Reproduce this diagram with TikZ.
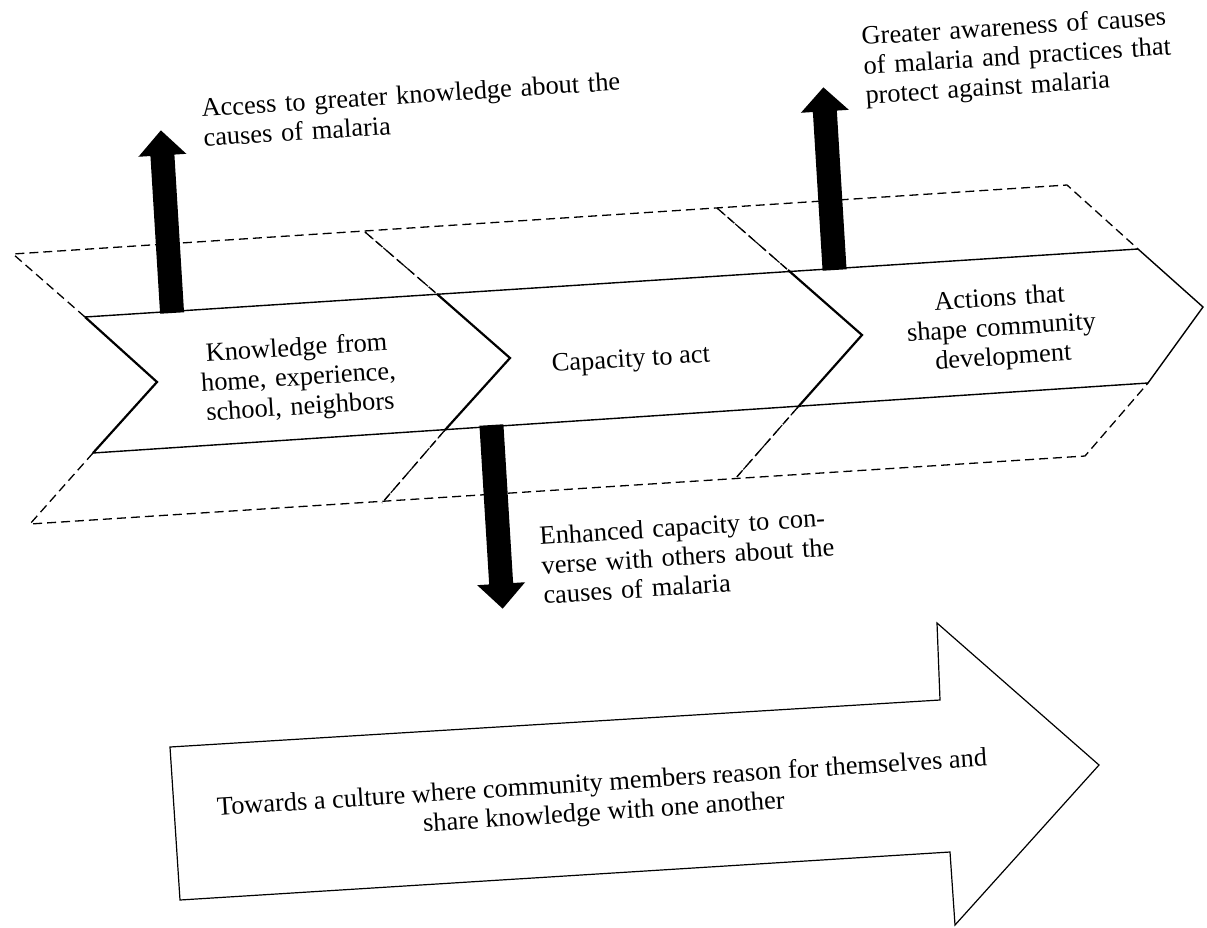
\documentclass[tikz,border=0pt]{standalone}
\usepackage{fontspec}
\setmainfont{Liberation Serif}
\begin{document}
\begin{tikzpicture}[x=1pt,y=-1pt,
  bandline/.style={line width=1.4pt, line join=miter},
  notchline/.style={line width=2.2pt, line join=miter},
  dashline/.style={line width=1.3pt, dash pattern=on 9pt off 5pt},
  dashshadow/.style={line width=1.1pt, dash pattern=on 5pt off 4pt, dash phase=3pt},
  txt/.style={font=\fontsize{26.4}{29.5}\selectfont, inner sep=0pt, rotate=3.7},
  blackarrow/.style={fill=black, draw=none}]
\useasboundingbox (0,0) rectangle (1207,927);
% outer dashed frame
\coordinate (D1) at (13,254);
\coordinate (D2) at (365,232);
\coordinate (D3) at (717,208);
\coordinate (D4) at (1067,185);
\coordinate (D5) at (1085,456);
\coordinate (D6) at (735,479);
\coordinate (D7) at (382,503);
\coordinate (D8) at (30,524);
% solid band
\coordinate (S1) at (85,317);
\coordinate (S2) at (157,382);
\coordinate (S3) at (93,453);
\coordinate (S4) at (1138,249);
\coordinate (S5) at (1203,307);
\coordinate (S6) at (1148,383);
\coordinate (C1t) at (437,294);
\coordinate (C1p) at (510,358);
\coordinate (C1b) at (445,430);
\coordinate (C2t) at (788,270);
\coordinate (C2p) at (862,335);
\coordinate (C2b) at (798,407);

\draw[dashline] (S1) -- (D1) -- (D4) -- (S4);
\draw[dashline] (S3) -- (D8) -- (D5) -- (S6);
\draw[dashline] (D2) -- (C1t);
\draw[dashline] (C1b) -- (D7);
\draw[dashline] (D3) -- (C2t);
\draw[dashline] (C2b) -- (D6);
\begin{scope}[shift={(1.8,0)}]
  \draw[dashshadow] (D2) -- (C1t);
  \draw[dashshadow] (C1b) -- (D7);
  \draw[dashshadow] (D3) -- (C2t);
  \draw[dashshadow] (C2b) -- (D6);
\end{scope}
\draw[bandline] (S1) -- (S4) -- (S5) -- (S6) -- (S3);
\draw[notchline] (S3) -- (S2) -- (S1);
\draw[notchline] (C1t) -- (C1p) -- (C1b);
\draw[notchline] (C2t) -- (C2p) -- (C2b);

% black arrows
\begin{scope}[shift={(172,312)}, rotate=3.5]
  \fill[blackarrow] (-12,1) -- (-12,-157) -- (-24,-157) -- (0,-182) -- (24,-157) -- (12,-157) -- (12,1) -- cycle;
\end{scope}
\begin{scope}[shift={(834.5,269)}, rotate=3.5]
  \fill[blackarrow] (-12,1) -- (-12,-158) -- (-24,-158) -- (0,-182) -- (24,-158) -- (12,-158) -- (12,1) -- cycle;
\end{scope}
\begin{scope}[shift={(491.5,426)}, rotate=3.5]
  \fill[blackarrow] (-12,-1) -- (-12,158) -- (-24,158) -- (0,183) -- (24,158) -- (12,158) -- (12,-1) -- cycle;
\end{scope}

% big arrow
\coordinate (A1) at (170,747);
\coordinate (A2) at (940,700);
\coordinate (A3) at (937,623);
\coordinate (A4) at (1099,765);
\coordinate (A5) at (955,925);
\coordinate (A6) at (950,852);
\coordinate (A7) at (180,900);
\draw[line width=1.2pt, line join=miter] (A1) -- (A2) -- (A3) -- (A4) -- (A5) -- (A6) -- (A7) -- cycle;

% texts
\node[txt, text width=480pt, align=left, anchor=base west] (t1) at (202,117)
  {\makebox[463pt][s]{Access to greater knowledge about the}\\causes of malaria};
\node[txt, text width=360pt, align=left, anchor=base west] (t2) at (862,45)
  {Greater awareness of causes\\of malaria and practices that\\protect against malaria};
\node[txt, text width=340pt, align=left, anchor=base west] (t3) at (540,545)
  {Enhanced capacity to con-\\verse with others about the\\causes of malaria};
\node[txt, text width=240pt, align=center, anchor=base] (k1) at (297,356)
  {Knowledge from\\home, experience,\\school, neighbors};
\node[txt, align=center] (k2) at (631,361) {Capacity to act};
\node[txt, text width=260pt, align=center, anchor=base] (k3) at (1000,306)
  {Actions that\\shape community\\development};
\node[txt, align=center] (k4) at (603,799)
  {Towards a culture where community members reason for themselves and\\share knowledge with one another};
\end{tikzpicture}
\end{document}
